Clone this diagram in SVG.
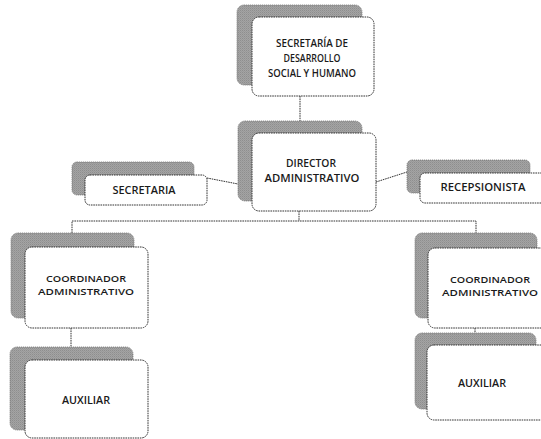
<svg xmlns="http://www.w3.org/2000/svg" width="541" height="439" viewBox="0 0 541 439">
  <defs>
    <pattern id="stipple" width="2" height="2" patternUnits="userSpaceOnUse">
      <rect width="2" height="2" fill="#a4a4a4"/>
      <rect x="0" y="0" width="1" height="1" fill="#8e8e8e"/>
      <rect x="1" y="1" width="1" height="1" fill="#999999"/>
    </pattern>
  </defs>
  <style>
    .shadow { fill: url(#stipple); stroke: #777; stroke-width: 0.8; stroke-dasharray: 1.2 0.8; }
    .box { fill: #ffffff; stroke: #333; stroke-width: 1; stroke-dasharray: 1.6 0.8; }
    .lbl { font-family: "Open Sans", "Noto Sans", "Liberation Sans", sans-serif; fill: #1a1a1a; text-anchor: middle; font-weight: 600; }
    .big { font-size: 11.5px; }
    .sm { font-size: 10.5px; }
    .xs { font-size: 9.5px; }
    .conn { fill: none; stroke: #333; stroke-width: 1; stroke-dasharray: 1.6 0.8; }
  </style>
  <rect width="541" height="439" fill="#ffffff"/>

  <g id="connectors">
    <line class="conn" x1="300" y1="96" x2="300" y2="121"/>
    <line class="conn" x1="299" y1="211" x2="299" y2="221"/>
    <polyline class="conn" points="72,233 72,221 476,221 476,233"/>
    <line class="conn" x1="71" y1="328" x2="71" y2="347"/>
    <line class="conn" x1="475" y1="328" x2="475" y2="333"/>
    <line class="conn" x1="207" y1="178" x2="238" y2="184"/>
    <line class="conn" x1="376" y1="182" x2="407" y2="172"/>
  </g>

  <g id="secretaria-desarrollo">
    <rect class="shadow" x="237" y="5" width="125" height="80" rx="7"/>
    <rect class="box" x="252" y="17" width="122" height="79" rx="7"/>
    <text class="lbl big" x="312" y="47" textLength="72" lengthAdjust="spacingAndGlyphs">SECRETARÍA DE</text>
    <text class="lbl big" x="312" y="62" textLength="57" lengthAdjust="spacingAndGlyphs">DESARROLLO</text>
    <text class="lbl big" x="312" y="77" textLength="88" lengthAdjust="spacingAndGlyphs">SOCIAL Y HUMANO</text>
  </g>

  <g id="director">
    <rect class="shadow" x="238" y="121" width="124" height="80" rx="7"/>
    <rect class="box" x="252" y="133" width="124" height="78" rx="7"/>
    <text class="lbl big" x="311" y="167" textLength="50" lengthAdjust="spacingAndGlyphs">DIRECTOR</text>
    <text class="lbl big" x="312" y="182" textLength="95" lengthAdjust="spacingAndGlyphs">ADMINISTRATIVO</text>
  </g>

  <g id="secretaria">
    <rect class="shadow" x="72" y="162" width="122" height="33" rx="5"/>
    <rect class="box" x="85" y="175" width="122" height="30" rx="5"/>
    <text class="lbl sm" x="144" y="194" textLength="63" lengthAdjust="spacingAndGlyphs">SECRETARIA</text>
  </g>

  <g id="recepsionista">
    <rect class="shadow" x="407" y="160" width="123" height="33" rx="5"/>
    <rect class="box" x="420" y="173" width="126" height="30" rx="5"/>
    <text class="lbl sm" x="483" y="191" textLength="85" lengthAdjust="spacingAndGlyphs">RECEPSIONISTA</text>
  </g>

  <g id="coordinador-izq">
    <rect class="shadow" x="11" y="233" width="123" height="85" rx="7"/>
    <rect class="box" x="25" y="247" width="123" height="81" rx="7"/>
    <text class="lbl xs" x="86" y="282" textLength="80" lengthAdjust="spacingAndGlyphs">COORDINADOR</text>
    <text class="lbl xs" x="86" y="295" textLength="96" lengthAdjust="spacingAndGlyphs">ADMINISTRATIVO</text>
  </g>

  <g id="auxiliar-izq">
    <rect class="shadow" x="10" y="347" width="123" height="83" rx="7"/>
    <rect class="box" x="25" y="360" width="123" height="78" rx="7"/>
    <text class="lbl sm" x="86" y="404" textLength="48" lengthAdjust="spacingAndGlyphs">AUXILIAR</text>
  </g>

  <g id="coordinador-der">
    <rect class="shadow" x="415" y="233" width="122" height="85" rx="7"/>
    <rect class="box" x="428" y="248" width="124" height="80" rx="7"/>
    <text class="lbl xs" x="490" y="283" textLength="80" lengthAdjust="spacingAndGlyphs">COORDINADOR</text>
    <text class="lbl xs" x="490" y="296" textLength="96" lengthAdjust="spacingAndGlyphs">ADMINISTRATIVO</text>
  </g>

  <g id="auxiliar-der">
    <rect class="shadow" x="415" y="333" width="121" height="76" rx="7"/>
    <rect class="box" x="427" y="345" width="124" height="75" rx="7"/>
    <text class="lbl sm" x="482" y="387" textLength="48" lengthAdjust="spacingAndGlyphs">AUXILIAR</text>
  </g>
</svg>
